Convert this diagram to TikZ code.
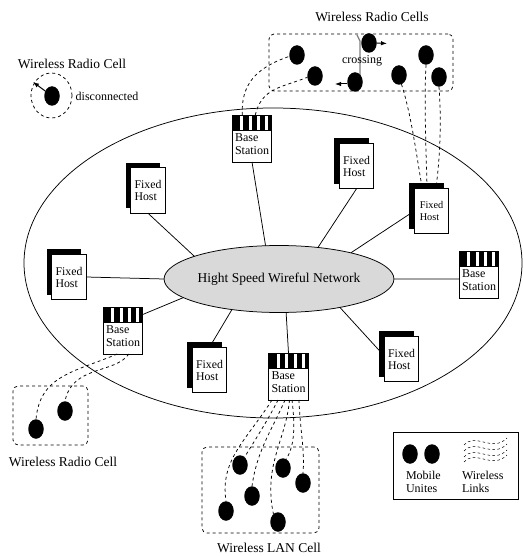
\documentclass[tikz,border=0pt]{standalone}
\usepackage{fontspec}
\setmainfont{Liberation Serif}
\usetikzlibrary{shapes.geometric,shadows,positioning,arrows.meta}

\begin{document}
\begin{tikzpicture}[x=1pt,y=-1pt,line width=0.75pt,
  every node/.style={inner sep=0pt,outer sep=0pt},
  title/.style={font=\fontsize{13.5}{15}\selectfont},
  small/.style={font=\fontsize{12}{13}\selectfont,align=left},
  host/.style={rectangle,draw,fill=white,minimum width=34.5pt,minimum height=45.5pt,align=left,
    font=\fontsize{11.8}{12}\selectfont,
    general shadow={fill=black,shadow xshift=-5pt,shadow yshift=5pt}},
  station/.style={rectangle,draw,fill=white,minimum width=39.5pt,minimum height=32pt,small},
  stripes/.style={rectangle,draw,fill=black,minimum width=39.5pt,minimum height=15pt,
    path picture={\foreach \sx in {8,16.5,25,33}
      \fill[white] ([xshift=\sx pt]path picture bounding box.north west) rectangle +(2.8,16);}},
  mobile/.style={ellipse,fill=black,minimum width=15.5pt,minimum height=19.5pt},
  cell/.style={rectangle,draw,dashed,rounded corners=5pt},
  link/.style={dashed},
  moving/.style={-{Latex[length=6pt,width=4.5pt]},line width=1pt}]
\useasboundingbox (0,0) rectangle (522,556);

\node[ellipse,draw,minimum width=498pt,minimum height=310pt] (wan) at (273,263) {};
\node[ellipse,draw,fill=black!15,minimum width=228pt,minimum height=67pt,title] (net) at (279,279)
  {Hight Speed Wireful Network};

\draw (148,190.5) node[host] (hostA) {Fixed\\Host}
      (356.5,166) node[host] (hostB) {Fixed\\Host}
      (431.5,211) node[host,font=\fontsize{10.3}{12}\selectfont] (hostC) {Fixed\\Host}
      (69,277) node[host] (hostD) {Fixed\\Host}
      (209.5,370) node[host] (hostE) {Fixed\\Host}
      (401.5,359) node[host] (hostF) {Fixed\\Host};

\foreach \nm/\px/\py in {baseA/252/146,baseB/479/282,baseC/123/338,baseD/288.5/384} {
  \node[station] (\nm) at (\px,\py) {Base\\Station\\[-9pt]\mbox{}};
  \node[stripes,above=0pt of \nm] (\nm top) {};
}

% wired side
\draw (hostA.south) -- (net.165) (hostB.south) -- (net.39)
      (baseA.south) -- (net.112) (hostC.west) -- (net.20) (baseB.west |- net.east) -- (net.east)
      (hostD.east) -- (net.west)
      (hostF.170) -- (net.-25) (baseDtop.north) -- (net.-78) (hostE.north) -- (net.213)
      (baseCtop.east) -- (net.191);

% cells
\node[cell,minimum width=184pt,minimum height=57pt] (cellTop) at (361,62.5) {};
\node[cell,minimum width=75pt,minimum height=59pt] (cellLeft) at (50.5,415.5) {};
\node[cell,minimum width=117pt,minimum height=86pt] (cellLan) at (260.5,490) {};
\node[ellipse,draw,dashed,minimum width=41pt,minimum height=45pt] (cellOff) at (51.5,95.5) {};
\node[rectangle,draw,minimum width=125pt,minimum height=67pt] (legend) at (455.5,465.5) {};

\draw[draw=black!50,line width=1.3pt] (357,35) -- (360,41) -- (360,76);

\draw (52,96) node[mobile] (mobOff) {}
      (297,55) node[mobile] (mobA) {} (315,76) node[mobile] (mobB) {}
      (355,82) node[mobile] (mobC) {} (369,43) node[mobile] (mobD) {}
      (399,75) node[mobile] (mobE) {} (426,55) node[mobile] (mobF) {}
      (439,77) node[mobile] (mobG) {}
      (36,429) node[mobile] (mobH) {} (65,411) node[mobile] (mobI) {}
      (226,511) node[mobile] (mobJ) {} (240,465) node[mobile] (mobK) {}
      (252,496) node[mobile] (mobL) {} (278,522) node[mobile] (mobM) {}
      (283,468) node[mobile] (mobN) {} (303,483) node[mobile] (mobO) {}
      (410,454) node[mobile] (mobP) {} (432,454) node[mobile] (mobQ) {};

% arrows for moving units
\coordinate (outOff) at (33,82);
\coordinate (outD) at (387,43.5);
\coordinate (outC) at (335,84);
\draw[moving] (mobOff) -- (outOff);
\draw[moving] (mobD.east) -- (outD);
\draw[moving] (mobC.west |- outC) -- (outC);

% wireless links
\draw[link] (baseAtop.north west) ++(10,0) coordinate (linkA)
      (linkA) .. controls (241,85) and (255,68) .. (mobA.190);
\draw[link] (baseAtop.north west) ++(23,0) coordinate (linkB)
      (linkB) .. controls (262,88) and (280,88) .. (mobB.190);
\draw[link] (mobE.-75) .. controls (412,117) and (417,160) .. (hostC.112);
\draw[link] (mobF.south) .. controls (424,100) and (426,150) .. (hostC.101);
\draw[link] (mobG.south) .. controls (441,115) and (441,150) .. (hostC.79);
\draw[link] (baseC.-110) .. controls (75,372) and (40,375) .. (mobH.north);
\draw[link] (baseC.-70) .. controls (115,374) and (72,365) .. (mobI.north);
\draw[link] ([xshift=-16.5pt]baseD.south) .. controls (245,442) and (220,460) .. (mobJ.north);
\draw[link] ([xshift=-10.5pt]baseD.south) .. controls (268,420) and (252,445) .. (mobK.60);
\draw[link] ([xshift=-3.5pt]baseD.south) .. controls (272,430) and (257,450) .. (mobL.north);
\draw[link] ([xshift=1pt]baseD.south) .. controls (286,440) and (263,465) .. (mobM.120);
\draw[link] ([xshift=3.5pt]baseD.south) .. controls (295,425) and (295,445) .. (mobN.70);
\draw[link] ([xshift=10.5pt]baseD.south) .. controls (300,430) and (305,450) .. (mobO.north);

% legend waves
\foreach \wy in {445,451,457,462}
  \draw[link,dash pattern=on 2.5pt off 2.5pt,line width=0.5pt] (464,\wy) .. controls (476,\wy-13) and (492,\wy+8) .. (507,\wy-7);

\node[title] (labTop) at (372,17) {Wireless Radio Cells};
\node[title] (labOff) at (72,64) {Wireless Radio Cell};
\node[title] (labLeft) at (63,462) {Wireless Radio Cell};
\node[title] (labLan) at (269,548) {Wireless LAN Cell};
\node[small] (labDisc) at (107,96) {disconnected};
\node[small] (labCross) at (362,61) {crossing};
\node[small,anchor=west] (labMob) at (406,482) {Mobile\\Unites};
\node[small,anchor=west] (labLink) at (462,482) {Wireless\\Links};
\end{tikzpicture}
\end{document}
